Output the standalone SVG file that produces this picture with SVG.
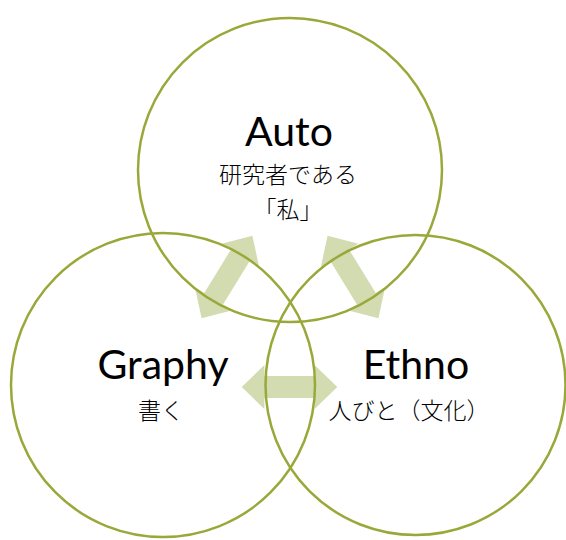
<svg xmlns="http://www.w3.org/2000/svg" width="566" height="540" viewBox="0 0 566 540">
<style>
.ring{fill:none;stroke:#9AA83A;stroke-width:2.5}
.arrow{fill:#D3DBB1;stroke:none}
.en{font-family:Lato,"Open Sans",sans-serif;font-size:41px;fill:#000;text-anchor:middle}
.jp{font-family:"Noto Sans CJK JP","Noto Sans",sans-serif;font-size:23px;font-weight:300;fill:#000;text-anchor:middle}
</style>
<defs>
<polygon id="dbl" points="-48.5,0 -25.5,-22 -25.5,-11 25.5,-11 25.5,-22 48.5,0 25.5,22 25.5,11 -25.5,11 -25.5,22"/>
</defs>
<rect width="566" height="540" fill="#fff"/>
<g id="connectors">
<use href="#dbl" class="arrow" transform="translate(227,277) rotate(-58.4)"/>
<use href="#dbl" class="arrow" transform="translate(353,277) rotate(58.4)"/>
<use href="#dbl" class="arrow" transform="translate(289.5,387) scale(0.985,1)"/>
</g>
<g id="auto">
<circle class="ring" cx="290" cy="170" r="152"/>
<text class="en" x="289" y="146">Auto</text>
<text class="jp" x="288" y="183">研究者である</text>
<text class="jp" x="288" y="218">「私」</text>
</g>
<g id="graphy">
<circle class="ring" cx="163" cy="385" r="152"/>
<text class="en" x="163" y="379">Graphy</text>
<text class="jp" x="161" y="419">書く</text>
</g>
<g id="ethno">
<circle class="ring" cx="415.5" cy="385" r="150"/>
<text class="en" x="416" y="379">Ethno</text>
<text class="jp" x="409" y="419">人びと（文化）</text>
</g>
</svg>
